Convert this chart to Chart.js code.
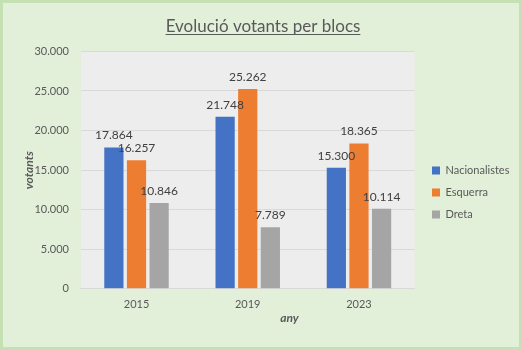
<!DOCTYPE html>
<html>
<head>
<meta charset="utf-8">
<script src="https://cdn.jsdelivr.net/npm/chart.js@4"></script>
<style>
  body { margin: 0; }
  #wrap {
    width: 522px; height: 350px; box-sizing: border-box;
    border: 3px solid #c5e0b3; background: #e2efd9; position: relative;
  }
  canvas { display: block; }
</style>
</head>
<body>
<div id="wrap"><canvas id="votesChart" width="516" height="344"></canvas></div>
<script>
const years = ['2015', '2019', '2023'];
const nacionalistes = [17864, 21748, 15300];
const esquerra = [16257, 25262, 18365];
const dreta = [10846, 7789, 10114];

const fontFamily = 'Lato, "Open Sans", sans-serif';

function fmt(v) {
    return String(v).replace(/\B(?=(\d{3})+(?!\d))/g, '.');
}

// grey plot background
const plotBg = {
    id: 'plotBg',
    afterLayout(chart) {
        // legend sits a bit lower and further right than Chart.js puts it
        const lg = chart.legend;
        const dx = 418 - lg.left, dy = 30;
        lg.left += dx; lg.right += dx;
        lg.top += dy; lg.bottom += dy;
    },
    beforeDraw(chart) {
        const a = chart.chartArea, c = chart.ctx;
        c.save();
        c.fillStyle = '#ededed';
        c.fillRect(a.left, a.top, a.right - a.left, a.bottom - a.top);
        c.restore();
    }
};

// value labels above bars, title underline, x axis title (off-centre like the original)
const extras = {
    id: 'extras',
    afterDatasetsDraw(chart) {
        const c = chart.ctx;
        const a = chart.chartArea;
        c.save();
        c.font = '12px ' + fontFamily;
        c.fillStyle = '#404040';
        c.textAlign = 'center';
        c.textBaseline = 'bottom';
        chart.data.datasets.forEach((ds, i) => {
            chart.getDatasetMeta(i).data.forEach((bar, j) => {
                c.fillText(fmt(ds.data[j]), bar.x, bar.y - 6);
            });
        });

        c.font = 'italic bold 12px ' + fontFamily;
        c.fillStyle = '#595959';
        c.textBaseline = 'middle';
        c.fillText('any', a.left + (a.right - a.left) * 0.625, a.bottom + 29);

        const t = chart.titleBlock;
        const to = chart.options.plugins.title;
        c.font = to.font.size + 'px ' + fontFamily;
        const w = c.measureText(to.text).width;
        const cx = (t.left + t.right) / 2;
        const y = Math.round(t.top + to.padding.top + to.font.size * 0.6 + to.font.size * 0.45);
        c.strokeStyle = '#595959';
        c.lineWidth = 1;
        c.beginPath();
        c.moveTo(cx - w / 2, y + 0.5);
        c.lineTo(cx + w / 2, y + 0.5);
        c.stroke();
        c.restore();
    }
};

new Chart(document.getElementById('votesChart'), {
    type: 'bar',
    data: {
        labels: years,
        datasets: [
            { label: 'Nacionalistes', data: nacionalistes, backgroundColor: '#4472c4' },
            { label: 'Esquerra', data: esquerra, backgroundColor: '#ed7d31' },
            { label: 'Dreta', data: dreta, backgroundColor: '#a5a5a5' }
        ]
    },
    options: {
        responsive: false,
        animation: false,
        layout: { padding: { left: 10, right: 6, top: 10, bottom: 35 } },
        datasets: {
            bar: { barPercentage: 0.85, categoryPercentage: 0.61 }
        },
        plugins: {
            title: {
                display: true,
                text: 'Evolució votants per blocs',
                color: '#595959',
                font: { family: fontFamily, size: 17, weight: 'normal' },
                padding: { top: 3, bottom: 15 }
            },
            legend: {
                position: 'right',
                labels: {
                    boxWidth: 8, boxHeight: 8, padding: 11,
                    color: '#595959',
                    font: { family: fontFamily, size: 11 }
                }
            },
            tooltip: { enabled: false }
        },
        scales: {
            x: {
                grid: { display: false },
                border: { color: '#d9d9d9' },
                ticks: { color: '#595959', padding: 1, font: { family: fontFamily, size: 11 } }
            },
            y: {
                min: 0, max: 30000,
                ticks: {
                    stepSize: 5000, color: '#595959',
                    font: { family: fontFamily, size: 11 },
                    callback: v => fmt(v), padding: 12
                },
                grid: { color: '#d9d9d9', drawTicks: false },
                border: { display: false },
                title: {
                    display: true, text: 'votants', color: '#595959',
                    font: { family: fontFamily, size: 12, weight: 'bold', style: 'italic' },
                    padding: { top: 9, bottom: -14 }
                }
            }
        }
    },
    plugins: [plotBg, extras]
});
</script>
</body>
</html>
